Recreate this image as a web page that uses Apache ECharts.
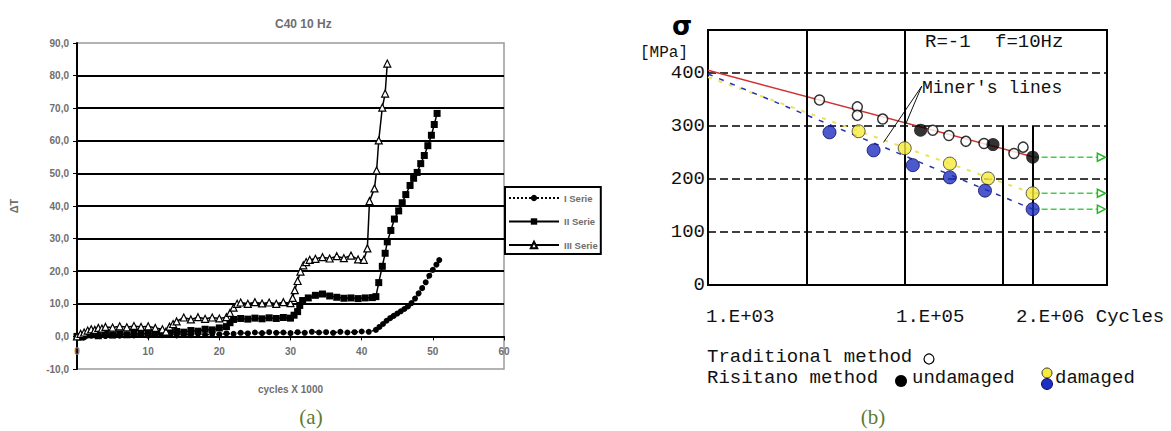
<!DOCTYPE html>
<html><head><meta charset="utf-8">
<script src="https://cdn.jsdelivr.net/npm/echarts@6/dist/echarts.min.js"></script>
<style>html,body{margin:0;padding:0;background:#fff}#c{width:1171px;height:431px}</style>
</head><body><div id="c"></div>
<script>
// ---------- Panel (a) data ----------
const titleA = 'C40 10 Hz';
const xNameA = 'cycles X 1000';
const yNameA = 'ΔT';
const seriesNamesA = ['I Serie', 'II Serie', 'III Serie'];
const serieI = [[0,0],[1,-0.3],[2,0.2],[3,0.4],[4,0.1],[5,0.5],[6,0.2],[7,0.6],[8,0.3],[9,0.5],[10,0.2],[11,0.6],[12,0.4],[13,0.7],[14,0.3],[15,0.6],[16,0.4],[17,0.8],[18,0.5],[19,0.7],[20,0.6],[21,0.9],[22,0.8],[23,1.1],[24,0.9],[25,1.2],[26,1.0],[27,1.3],[28,1.1],[29,1.2],[30,1.0],[31,1.3],[32,1.1],[33,1.4],[34,1.2],[35,1.3],[36,1.1],[37,1.4],[38,1.2],[39,1.3],[40,1.5],[41,1.4],[42,2.0],[42.5,2.9],[43,3.8],[43.5,4.8],[44,5.6],[44.5,6.3],[45,7.0],[45.5,7.7],[46,8.4],[46.5,9.2],[47,10.2],[47.5,11.6],[48,13.2],[48.5,14.8],[49,16.6],[49.5,18.6],[50,20.4],[50.5,22.0],[50.9,23.4]];
const serieII = [[0,0],[0.5,-0.2],[1,0.3],[2,0.5],[3,0.2],[4,0.6],[5,0.4],[6,0.8],[7,0.5],[8,0.9],[9,0.7],[10,1.0],[11,0.8],[12,1.2],[13,1.0],[14,1.5],[15,1.3],[16,1.8],[17,1.6],[18,2.2],[19,2.0],[20,2.6],[21,3.0],[21.5,4.2],[22,5.2],[23,5.5],[24,5.3],[25,5.6],[26,5.4],[27,5.7],[28,5.5],[29,5.8],[30,5.6],[30.5,6.5],[31,7.6],[31.3,9.5],[31.7,11.0],[32.5,11.8],[33.5,12.6],[34.5,13.0],[35.5,12.4],[36.5,12.0],[37.5,11.7],[38.5,11.8],[39.5,11.6],[40.5,11.8],[41.5,11.9],[42,12.2],[42.4,16.5],[42.9,21.5],[43.3,25.5],[43.6,29.0],[44.1,32.5],[44.6,36.0],[45.2,38.5],[45.7,41.0],[46.2,43.5],[46.8,46.3],[47.3,48.5],[47.8,50.3],[48.3,53.0],[48.8,55.5],[49.3,58.5],[49.8,61.7],[50.2,65.0],[50.6,68.4]];
const serieIII = [[0,0],[0.5,0.8],[1,1.2],[1.5,1.8],[2,2.2],[2.5,2.0],[3,2.6],[3.5,2.4],[4,2.9],[5,2.7],[6,3.1],[7,2.8],[8,3.2],[9,2.9],[10,3.1],[11,2.6],[12,2.2],[12.5,1.5],[13,3.0],[13.5,3.8],[14,4.6],[15,5.8],[16,5.2],[17,5.9],[18,5.4],[19,5.8],[20,5.5],[21,5.9],[21.5,7.2],[22,8.8],[22.5,10.0],[23,10.4],[24,10.0],[25,10.5],[26,10.1],[27,10.4],[28,10.0],[29,10.5],[30,10.2],[30.3,11.8],[30.6,14.2],[31,17.0],[31.4,19.9],[31.8,21.8],[32.2,22.8],[32.7,23.5],[33.5,23.8],[34.5,24.3],[35.5,23.9],[36.5,24.6],[37.5,24.0],[38.5,24.8],[39.5,23.6],[40.3,23.5],[40.8,27.0],[41.1,41.5],[41.8,45.4],[42.1,50.9],[42.4,60.1],[42.9,70.2],[43.3,74.5],[43.6,83.7]];

// ---------- Panel (b) data ----------
const sigmaLabel = 'σ';
const unitLabel = '[MPa]';
const condLabels = ['R=-1', 'f=10Hz'];
const minerLabel = "Miner's lines";
const xTickLabelsB = ['1.E+03', '1.E+05', '2.E+06 Cycles'];
const legendTextsB = ['Traditional method', 'Risitano method', 'undamaged', 'damaged'];
const traditional = [[13600,349],[33000,336],[33000,320],[59700,313],[193000,292],[281000,282],[419000,271],[640000,267],[1290000,248],[1600000,260]];
const undamaged = [[145000,292],[790000,265],[2000000,241]];
const damagedYellow = [[34000,290],[100000,258],[288000,229],[703000,201],[2000000,173]];
const damagedBlue = [[17200,288],[48300,254],[121000,226],[288000,203],[655000,178],[2000000,143]];
const minerRed = [[1000,405],[2000000,242]];
const minerYellow = [[1000,392],[2000000,173]];
const minerBlue = [[1000,398],[2000000,143]];
const runoutLevels = [241, 173, 143];
const runoutFrom = 2000000, runoutTo = 10000000;
const leaderA = [[149000,375],[61000,269]];
const leaderB = [[149000,375],[102000,303]];
const vFull = [10000, 100000];
const vPartial = [1000000, 2000000];
const vPartialTop = 300;

const chart = echarts.init(document.getElementById('c'), null, {renderer: 'svg'});
const grayTxt = {color: '#6e6e6e', fontFamily: 'Liberation Sans, Arial', fontWeight: 'bold', fontSize: 10};
const mono = '"Liberation Mono", "DejaVu Sans Mono", monospace';

const runoutSeries = runoutLevels.map(v => ({
  type: 'line', xAxisIndex: 1, yAxisIndex: 1, data: [[runoutFrom, v], [runoutTo, v]],
  symbol: (val, p) => p.dataIndex === 1 ? 'triangle' : 'none', symbolRotate: -90, symbolSize: 8,
  itemStyle: {color: '#fff', borderColor: '#2bb52b', borderWidth: 1.5},
  lineStyle: {color: '#44d044', width: 1.5, type: [6, 3]}, z: 3
}));

const txt = (x, y, text, font, align, fill) => ({type: 'text', x, y, style: {text, font, align: align || 'left', verticalAlign: 'middle', fill: fill || '#111'}});

const option = {
  animation: false,
  backgroundColor: '#fff',
  title: {text: titleA, left: 270, top: 13, textStyle: Object.assign({}, grayTxt, {fontSize: 12})},
  legend: {
    data: seriesNamesA, left: 505, top: 187, orient: 'vertical', itemWidth: 50, itemHeight: 8, itemGap: 13.5,
    padding: [6, 3, 4, 3], borderColor: '#000', borderWidth: 2, textStyle: Object.assign({}, grayTxt, {fontSize: 9.5})
  },
  grid: [
    {left: 77, top: 43, width: 427, height: 326, show: true, borderColor: '#9a9a9a', borderWidth: 1.5},
    {left: 708, top: 30, width: 399, height: 255, show: true, borderColor: '#000', borderWidth: 2}
  ],
  xAxis: [
    {type: 'value', gridIndex: 0, min: 0, max: 60, interval: 10, position: 'bottom', offset: -32.6,
     axisLine: {onZero: false, lineStyle: {color: '#000', width: 2}},
     axisTick: {show: true, length: 4, lineStyle: {color: '#000'}},
     axisLabel: Object.assign({margin: 10}, grayTxt), splitLine: {show: false},
     name: xNameA, nameLocation: 'middle', nameGap: 48, nameMoveOverlap: false, nameTextStyle: grayTxt},
    {type: 'log', logBase: 10, gridIndex: 1, min: 1000, max: 11400000,
     axisLine: {show: false}, axisTick: {show: false}, axisLabel: {show: false}, splitLine: {show: false}}
  ],
  yAxis: [
    {type: 'value', gridIndex: 0, min: -10, max: 90, interval: 10,
     axisLine: {show: true, lineStyle: {color: '#000', width: 2}},
     axisTick: {show: true, length: 4, lineStyle: {color: '#000'}},
     axisLabel: Object.assign({margin: 8, formatter: v => v.toFixed(1).replace('.', ',')}, grayTxt),
     splitLine: {show: true, showMinLine: false, showMaxLine: false, lineStyle: {color: '#000', width: 2}},
     name: yNameA, nameLocation: 'middle', nameGap: 58, nameRotate: 90, nameTextStyle: Object.assign({}, grayTxt, {fontSize: 11})},
    {type: 'value', gridIndex: 1, min: 0, max: 481, interval: 100,
     axisLine: {show: false}, axisTick: {show: false},
     axisLabel: {margin: 3, fontFamily: mono, fontSize: 19, color: '#111', formatter: v => (v % 100 === 0 ? String(v) : '')},
     splitLine: {show: true, showMinLine: false, showMaxLine: false, lineStyle: {color: '#000', width: 1.5, type: [8, 4]}}}
  ],
  series: [
    {name: seriesNamesA[0], type: 'line', xAxisIndex: 0, yAxisIndex: 0, data: serieI, symbol: 'circle', symbolSize: 6,
     itemStyle: {color: '#000'}, lineStyle: {color: '#000', width: 1.5, type: 'dotted'}},
    {name: seriesNamesA[1], type: 'line', xAxisIndex: 0, yAxisIndex: 0, data: serieII, symbol: 'rect', symbolSize: 7,
     itemStyle: {color: '#000'}, lineStyle: {color: '#000', width: 1.5}},
    {name: seriesNamesA[2], type: 'line', xAxisIndex: 0, yAxisIndex: 0, data: serieIII, symbol: 'triangle', symbolSize: 7,
     itemStyle: {color: '#fff', borderColor: '#000', borderWidth: 1.2}, lineStyle: {color: '#000', width: 1.5}},

    {type: 'line', xAxisIndex: 1, yAxisIndex: 1, data: minerRed, symbol: 'none', lineStyle: {color: '#d03030', width: 1.5}, z: 3,
     markLine: {silent: true, symbol: 'none', label: {show: false}, lineStyle: {color: '#000', width: 2, type: 'solid'},
       data: vFull.map(v => ({xAxis: v})).concat(vPartial.map(v => [{coord: [v, 0]}, {coord: [v, vPartialTop]}]))}},
    {type: 'line', xAxisIndex: 1, yAxisIndex: 1, data: minerYellow, symbol: 'none', lineStyle: {color: '#ece25a', width: 2, type: [4, 7]}, z: 3},
    {type: 'line', xAxisIndex: 1, yAxisIndex: 1, data: minerBlue, symbol: 'none', lineStyle: {color: '#2233b0', width: 1.5, type: [5, 7]}, z: 3},
    {type: 'line', xAxisIndex: 1, yAxisIndex: 1, data: leaderA, symbol: 'none', lineStyle: {color: '#111', width: 1}, z: 3},
    {type: 'line', xAxisIndex: 1, yAxisIndex: 1, data: leaderB, symbol: 'none', lineStyle: {color: '#111', width: 1}, z: 3},
    ...runoutSeries,
    {type: 'scatter', xAxisIndex: 1, yAxisIndex: 1, data: traditional, symbol: 'circle', symbolSize: 10,
     itemStyle: {color: '#fff', borderColor: '#000', borderWidth: 1.5}, z: 5},
    {type: 'scatter', xAxisIndex: 1, yAxisIndex: 1, data: undamaged, symbol: 'circle', symbolSize: 13,
     itemStyle: {color: '#000'}, z: 6},
    {type: 'scatter', xAxisIndex: 1, yAxisIndex: 1, data: damagedYellow, symbol: 'circle', symbolSize: 13,
     itemStyle: {color: '#f6ea3a', borderColor: '#333', borderWidth: 1}, z: 5},
    {type: 'scatter', xAxisIndex: 1, yAxisIndex: 1, data: damagedBlue, symbol: 'circle', symbolSize: 13,
     itemStyle: {color: '#1f2fc0', borderColor: '#0a0a60', borderWidth: 1}, z: 5}
  ],
  graphic: [
    txt(682, 26, sigmaLabel, 'bold 26px "DejaVu Sans"', 'center', '#000'),
    txt(640, 53, unitLabel, '16px ' + mono),
    txt(925, 42, condLabels[0], '19px ' + mono),
    txt(995, 42, condLabels[1], '19px ' + mono),
    txt(922, 88, minerLabel, '18px ' + mono),
    txt(706, 317, xTickLabelsB[0], '19px ' + mono),
    txt(896, 317, xTickLabelsB[1], '19px ' + mono),
    txt(1016, 317, xTickLabelsB[2], '19px ' + mono),
    txt(707, 357, legendTextsB[0], '19px ' + mono),
    {type: 'circle', shape: {cx: 929, cy: 359, r: 5}, style: {fill: '#fff', stroke: '#000', lineWidth: 1.2}},
    txt(707, 378, legendTextsB[1], '19px ' + mono),
    {type: 'circle', shape: {cx: 901, cy: 381, r: 6}, style: {fill: '#000'}},
    txt(912, 378, legendTextsB[2], '19px ' + mono),
    {type: 'circle', shape: {cx: 1047, cy: 373, r: 5}, style: {fill: '#f6ea3a', stroke: '#333', lineWidth: 1}},
    {type: 'circle', shape: {cx: 1047, cy: 384, r: 5.5}, style: {fill: '#1f2fc0', stroke: '#0a0a60', lineWidth: 1}},
    txt(1055, 378, legendTextsB[3], '19px ' + mono),
    txt(311, 417, '(a)', '21px "Liberation Serif", serif', 'center', '#5f7a30'),
    txt(873, 417, '(b)', '21px "Liberation Serif", serif', 'center', '#5f7a30')
  ]
};
chart.setOption(option);
</script>
</body></html>
